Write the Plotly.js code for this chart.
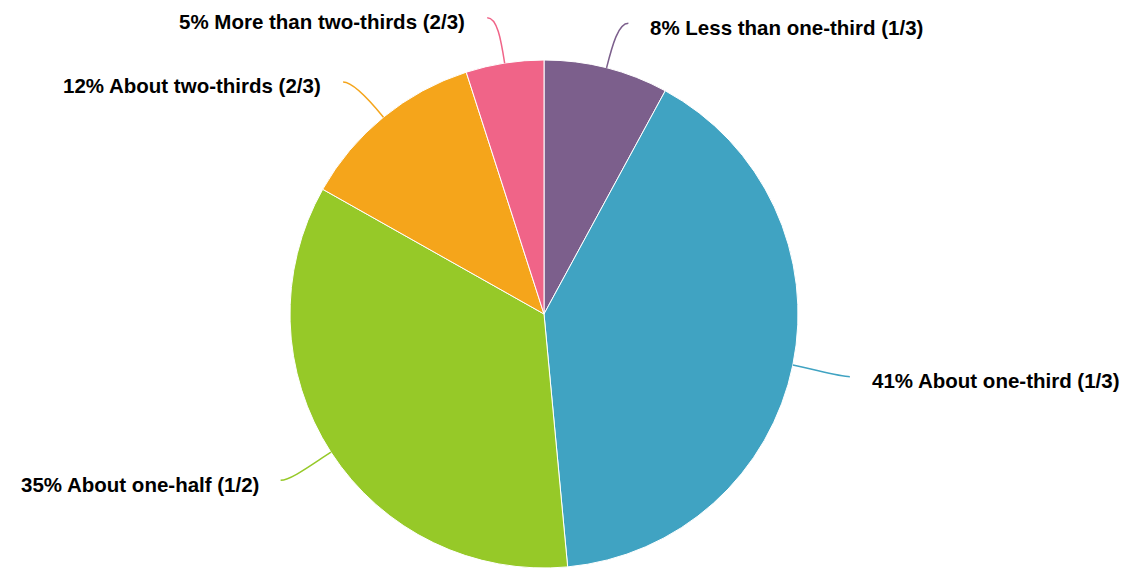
<!DOCTYPE html>
<html>
<head>
<meta charset="utf-8">
<script src="https://cdn.plot.ly/plotly-3.0.1.min.js"></script>
<style>
  html, body { margin: 0; padding: 0; background: #ffffff; }
  #chart { width: 1126px; height: 569px; }
</style>
</head>
<body>
<div id="chart"></div>
<script>
// Share of answers per category (percent)
const categories = [
  'Less than one-third (1/3)',
  'About one-third (1/3)',
  'About one-half (1/2)',
  'About two-thirds (2/3)',
  'More than two-thirds (2/3)'
];
const percents = [8, 41, 35, 12, 5];
const sliceColors = ['#7c5f8c', '#40a3c2', '#96c928', '#f5a51b', '#f06488'];

const W = 1126, H = 569;
// Pie geometry in pixels (domain chosen so the radius is 254px)
const cx = 544, cy = 314, R = 254;
const domainX = [(cx - R) / W, (cx + R) / W];
const domainY = [1 - (cy + R) / H, 1 - (cy - R) / H];

const px = x => x / W;
const py = y => 1 - y / H;

const total = percents.reduce((a, b) => a + b, 0);
const shapes = [];
const annotations = [];
let cum = 0;
percents.forEach((v, i) => {
  const mid = (cum + v / 2) / total * 2 * Math.PI;
  cum += v;
  const dx = Math.sin(mid), dy = -Math.cos(mid);
  const side = dx >= 0 ? 1 : -1;
  // connector: leaves the rim radially, bends towards the label
  const sx = cx + R * dx, sy = cy + R * dy;
  const ex = cx + (R + 48) * dx + side * 10, ey = cy + (R + 48) * dy + 2;
  const c1x = cx + (R + 24) * dx, c1y = cy + (R + 24) * dy;
  const c2x = ex - side * 10, c2y = ey;
  shapes.push({
    type: 'path', xref: 'paper', yref: 'paper',
    path: `M ${px(sx)},${py(sy)} C ${px(c1x)},${py(c1y)} ${px(c2x)},${py(c2y)} ${px(ex)},${py(ey)}`,
    line: { color: sliceColors[i], width: 1.5 }
  });
  annotations.push({
    xref: 'paper', yref: 'paper',
    x: px(ex + side * 20), y: py(ey + 4),
    xanchor: side > 0 ? 'left' : 'right', yanchor: 'middle',
    showarrow: false,
    text: `<b>${v}% ${categories[i]}</b>`,
    font: { family: 'Liberation Sans, Arial, sans-serif', size: 20.5, color: '#000000' }
  });
});

const trace = {
  type: 'pie',
  labels: categories,
  values: percents,
  sort: false,
  direction: 'clockwise',
  rotation: 0,
  textinfo: 'none',
  hoverinfo: 'label+percent',
  marker: { colors: sliceColors, line: { color: '#ffffff', width: 1 } },
  domain: { x: domainX, y: domainY },
  showlegend: false
};

const layout = {
  width: W, height: H,
  margin: { l: 0, r: 0, t: 0, b: 0 },
  paper_bgcolor: '#ffffff',
  plot_bgcolor: '#ffffff',
  showlegend: false,
  shapes: shapes,
  annotations: annotations
};

Plotly.newPlot('chart', [trace], layout, { displayModeBar: false, staticPlot: true });
</script>
</body>
</html>
